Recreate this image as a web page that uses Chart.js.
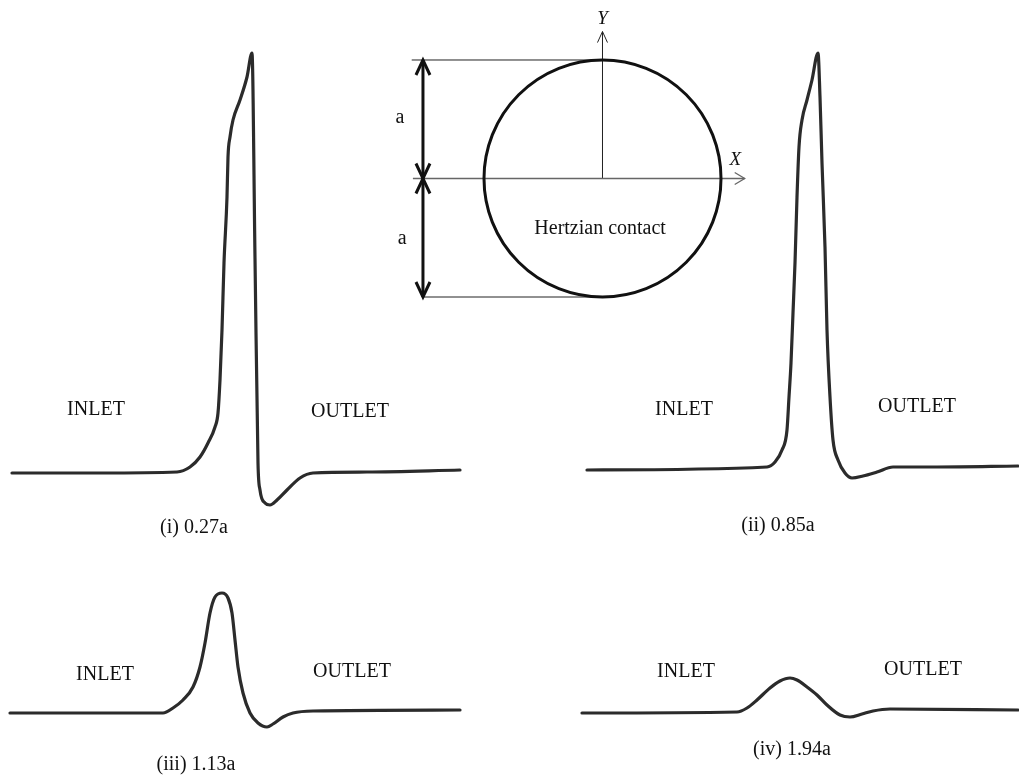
<!DOCTYPE html>
<html>
<head>
<meta charset="utf-8">
<script src="https://cdn.jsdelivr.net/npm/chart.js@4.4.1/dist/chart.umd.min.js"></script>
<style>
  html, body { margin: 0; padding: 0; background: #fff; }
  #fig { position: relative; width: 1019px; height: 778px; overflow: hidden; background: #fff; }
  #fig canvas { position: absolute; }
</style>
</head>
<body>
<div id="fig">
  <canvas id="p1" width="480" height="560" style="left:0;top:0"></canvas>
  <canvas id="p2" width="449" height="560" style="left:570px;top:0"></canvas>
  <canvas id="p3" width="480" height="218" style="left:0;top:560px"></canvas>
  <canvas id="p4" width="449" height="218" style="left:570px;top:560px"></canvas>
  <canvas id="contact" width="390" height="310" style="left:380px;top:0"></canvas>
</div>
<script>
// pressure traces across the track
// x = position along the track, p = trace height above its baseline
const xI = [12, 100, 177, 190, 200, 208, 215, 218, 220, 222, 224, 227, 228, 230, 233, 240, 247, 252, 255, 258, 260, 265, 270, 277, 287, 300, 313, 367, 460];
const pI = [-1, -1, 0, 5, 15, 29, 45, 59, 92, 142, 209, 275, 315, 335, 352, 372, 395, 419, 214, 9, -18, -31, -33, -28, -18, -6, -1, 0, 2];

const xII = [17, 197, 205, 212, 217, 219, 221, 223, 225, 227, 229, 232, 237, 242, 248, 250, 252, 255, 257, 260, 263, 268, 275, 282, 293, 307, 323, 367, 448];
const pII = [0, 3, 8, 20, 40, 73, 107, 157, 207, 273, 323, 350, 370, 390, 417, 373, 307, 223, 140, 73, 30, 10, -3, -8, -6, -2, 3, 3, 4];

const xIII = [10, 163, 173, 183, 193, 200, 205, 210, 215, 222, 228, 232, 235, 238, 243, 250, 258, 267, 273, 283, 293, 313, 460];
const pIII = [-1, -1, 4, 12, 25, 45, 69, 99, 115, 119, 114, 99, 72, 45, 19, -1, -11, -15, -12, -5, -1, 1, 2];

const xIV = [12, 167, 177, 187, 200, 210, 220, 227, 237, 247, 257, 270, 280, 292, 303, 320, 448];
const pIV = [-1, 0, 4, 12, 24, 31, 34, 32, 25, 17, 7, -3, -5, -2, 1, 3, 2];

const captions = ['(i) 0.27a', '(ii) 0.85a', '(iii) 1.13a', '(iv) 1.94a'];
const sideLabels = ['INLET', 'OUTLET'];

// contact sketch, in units of the half-width a
const A = 1;
const contactLabel = 'Hertzian contact';

const INK = '#111';
const TRACE = '#2b2b2b';
const SERIF = '20px "Liberation Serif", "Times New Roman", serif';
const SERIF_IT = 'italic 19px "Liberation Serif", "Times New Roman", serif';

function textLayer(items) {
  return {
    id: 'figText',
    afterDatasetsDraw(chart) {
      const { ctx, scales: { x, y } } = chart;
      ctx.save();
      ctx.textAlign = 'center';
      ctx.textBaseline = 'middle';
      ctx.fillStyle = INK;
      items.forEach(it => {
        ctx.font = it.font || SERIF;
        ctx.fillText(it.text, x.getPixelForValue(it.x), y.getPixelForValue(it.y));
      });
      ctx.restore();
    }
  };
}

const arrowHeads = {
  id: 'arrowHeads',
  afterDatasetsDraw(chart) {
    const { ctx } = chart;
    chart.data.datasets.forEach((ds, i) => {
      if (!ds.arrows) return;
      const pts = chart.getDatasetMeta(i).data;
      const { len, half } = ds.arrows;
      const head = (tip, from) => {
        const ang = Math.atan2(tip.y - from.y, tip.x - from.x);
        const bx = tip.x - Math.cos(ang) * len;
        const by = tip.y - Math.sin(ang) * len;
        const nx = -Math.sin(ang) * half;
        const ny = Math.cos(ang) * half;
        ctx.beginPath();
        ctx.moveTo(bx + nx, by + ny);
        ctx.lineTo(tip.x, tip.y);
        ctx.lineTo(bx - nx, by - ny);
        ctx.stroke();
      };
      ctx.save();
      ctx.strokeStyle = ds.borderColor;
      ctx.lineWidth = ds.borderWidth;
      if (ds.arrows.end) head(pts[pts.length - 1], pts[pts.length - 2]);
      if (ds.arrows.start) head(pts[0], pts[1]);
      ctx.restore();
    });
  }
};

const hiddenAxis = (min, max) => ({ type: 'linear', display: false, min, max });

function makePanel(id, xs, ps, xMax, yMin, yMax, items) {
  const el = document.getElementById(id);
  return new Chart(el, {
    type: 'scatter',
    plugins: [textLayer(items)],
    data: {
      datasets: [{
        data: xs.map((x, i) => ({ x, y: ps[i] })),
        showLine: true,
        borderColor: TRACE,
        borderWidth: 3.2,
        pointRadius: 0,
        cubicInterpolationMode: 'monotone',
        borderCapStyle: 'round',
        borderJoinStyle: 'round',
      }],
    },
    options: {
      responsive: false,
      animation: false,
      events: [],
      layout: { padding: 0 },
      plugins: { legend: { display: false }, tooltip: { enabled: false } },
      scales: { x: hiddenAxis(0, xMax), y: hiddenAxis(yMin, yMax) },
    },
  });
}

makePanel('p1', xI, pI, 480, -88, 472, [
  { text: sideLabels[0], x: 96, y: 62 },
  { text: sideLabels[1], x: 350, y: 60 },
  { text: captions[0], x: 194, y: -56 },
]);
makePanel('p2', xII, pII, 449, -90, 470, [
  { text: sideLabels[0], x: 114, y: 60 },
  { text: sideLabels[1], x: 347, y: 63 },
  { text: captions[1], x: 208, y: -56 },
]);
makePanel('p3', xIII, pIII, 480, -66, 152, [
  { text: sideLabels[0], x: 105, y: 37 },
  { text: sideLabels[1], x: 352, y: 40 },
  { text: captions[2], x: 196, y: -53 },
]);
makePanel('p4', xIV, pIV, 449, -66, 152, [
  { text: sideLabels[0], x: 116, y: 40 },
  { text: sideLabels[1], x: 353, y: 42 },
  { text: captions[3], x: 222, y: -38 },
]);

// contact circle with X/Y axes and the 2a dimension
const seg = (pts, color, width, arrows) => ({
  data: pts,
  showLine: true,
  borderColor: color,
  borderWidth: width,
  pointRadius: 0,
  arrows,
});

new Chart(document.getElementById('contact'), {
  type: 'scatter',
  plugins: [arrowHeads, textLayer([
    { text: 'a', x: -1.71, y: 0.51 },
    { text: 'a', x: -1.69, y: -0.51 },
    { text: contactLabel, x: -0.02, y: -0.42 },
    { text: 'Y', x: 0, y: 1.35, font: SERIF_IT },
    { text: 'X', x: 1.12, y: 0.16, font: SERIF_IT },
  ])],
  data: {
    datasets: [
      {
        data: [{ x: 0, y: 0 }],
        pointRadius: c => c.chart.scales.x.getPixelForValue(A) - c.chart.scales.x.getPixelForValue(0),
        pointBackgroundColor: 'rgba(0,0,0,0)',
        pointBorderColor: INK,
        pointBorderWidth: 3,
      },
      seg([{ x: -1.60, y: 0 }, { x: 1.20, y: 0 }], '#666', 1.3, { end: true, len: 10, half: 6 }),
      seg([{ x: 0, y: 0 }, { x: 0, y: 1.24 }], '#222', 1, { end: true, len: 11, half: 5 }),
      seg([{ x: -1.61, y: A }, { x: 0, y: A }], '#222', 1),
      seg([{ x: -1.52, y: -A }, { x: 0, y: -A }], '#222', 1),
      seg([{ x: -1.515, y: 0 }, { x: -1.515, y: A }], INK, 3, { start: true, end: true, len: 15, half: 7 }),
      seg([{ x: -1.515, y: -A }, { x: -1.515, y: 0 }], INK, 3, { start: true, end: true, len: 15, half: 7 }),
    ],
  },
  options: {
    responsive: false,
    animation: false,
    events: [],
    layout: { padding: 0 },
    plugins: { legend: { display: false }, tooltip: { enabled: false } },
    scales: { x: hiddenAxis(-1.8776, 1.4135), y: hiddenAxis(-1.1097, 1.5063) },
  },
});
</script>
</body>
</html>
